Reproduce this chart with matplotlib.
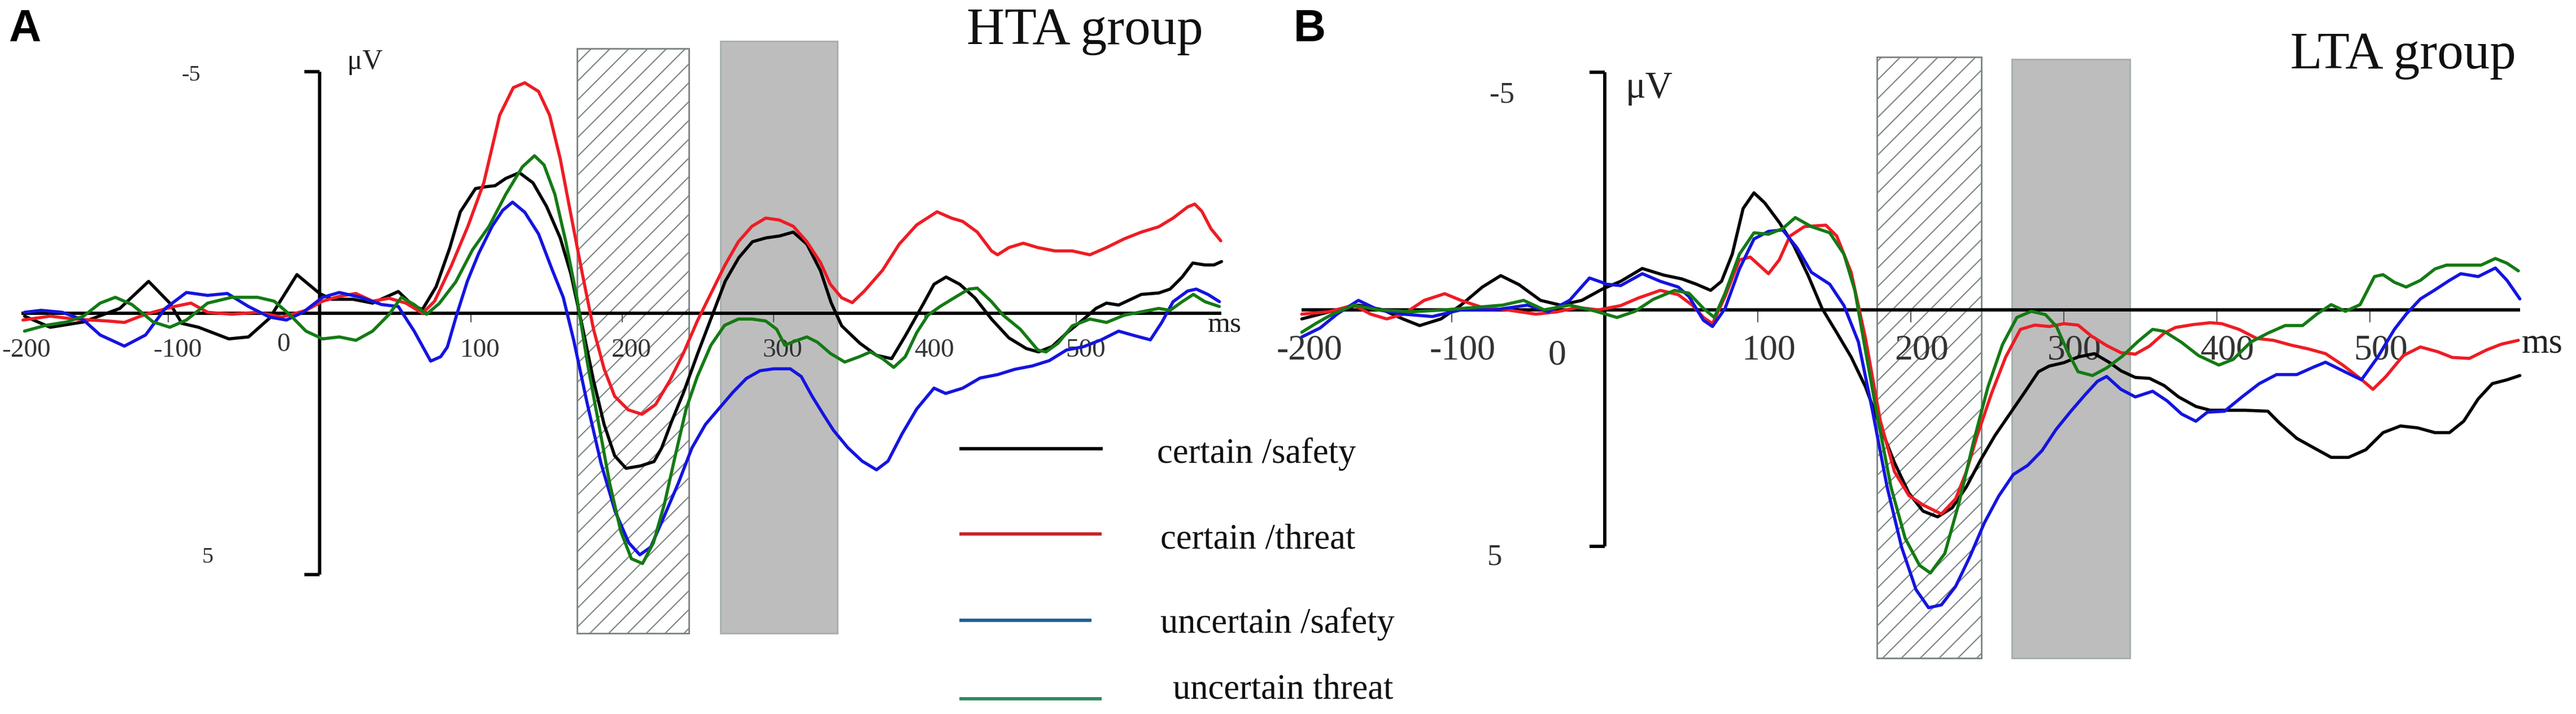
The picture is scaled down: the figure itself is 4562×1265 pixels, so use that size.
import matplotlib
matplotlib.use("Agg")
import matplotlib.pyplot as plt
from matplotlib.patches import Rectangle
from matplotlib.lines import Line2D
import numpy as np

W, H = 4562, 1265
plt.rcParams['font.family'] = ['Liberation Serif', 'DejaVu Serif']
plt.rcParams['hatch.linewidth'] = 1.5

# ---- data: ERP waveforms, (ms, uV), negative is plotted upwards ----
conditions = ['certain /safety', 'certain /threat', 'uncertain /safety', 'uncertain threat']
curve_colors = ['#000000', '#ee1c25', '#1414e0', '#147a14']
legend_colors = ['#000000', '#c62329', '#1f5f94', '#2e8a5c']
ms_ticks = [-200, -100, 0, 100, 200, 300, 400, 500]

hta_certain_safety = [
    (-195, 0.06), (-178, 0.29), (-156, 0.18), (-132, -0.10), (-113, -0.66), (-99, -0.21),
    (-91, 0.21), (-80, 0.29), (-60, 0.53), (-47, 0.49), (-33, 0.10), (-15, -0.80), (0, -0.41),
    (8, -0.29), (22, -0.29), (35, -0.21), (52, -0.45), (62, -0.15), (68, -0.08), (77, -0.55),
    (86, -1.35), (93, -2.10), (103, -2.58), (110, -2.62), (116, -2.64), (123, -2.79), (132, -2.91),
    (141, -2.70), (150, -2.21), (159, -1.56), (166, -0.82), (174, 0.33), (181, 1.39), (188, 2.30),
    (195, 2.95), (202.5, 3.21), (212, 3.16), (221, 3.07), (226, 2.79), (233, 2.21), (240.5, 1.64),
    (250, 0.82), (259, 0.08), (268, -0.66), (277, -1.15), (286, -1.48), (295, -1.56), (304, -1.60),
    (313, -1.68), (322, -1.43), (331, -0.88), (338, -0.22), (345, 0.26), (357, 0.62), (368, 0.87),
    (378, 0.94), (387, 0.47), (398.5, -0.17), (406, -0.60), (414, -0.75), (423, -0.60), (433, -0.32),
    (444, 0.12), (455.5, 0.51), (467, 0.73), (475, 0.80), (484, 0.69), (494, 0.40), (505, 0.12),
    (513, -0.10), (520, -0.21), (528, -0.17), (535.5, -0.28), (543, -0.39), (554.5, -0.42),
    (562, -0.50), (570, -0.75), (577, -1.04), (585, -1.00), (591, -1.00), (596, -1.07)]

hta_certain_threat = [
    (-196, 0.14), (-178, 0.06), (-162, 0.12), (-140, 0.16), (-129, 0.19), (-115, 0.02), (-96, -0.14),
    (-85, -0.21), (-74, -0.02), (-58, 0.02), (-41, -0.02), (-25, 0.08), (-9, -0.06), (2, -0.25),
    (13, -0.35), (24, -0.41), (35, -0.25), (46, -0.31), (57, -0.21), (68, 0.00), (76, -0.25),
    (87, -0.98), (98, -1.80), (108.5, -2.70), (119, -4.10), (128, -4.67), (135.6, -4.77),
    (144.7, -4.59), (152, -4.10), (159, -3.20), (166, -2.05), (173.6, -0.82), (181, 0.33),
    (188, 1.15), (195, 1.72), (204, 2.00), (213, 2.09), (222, 1.89), (231.5, 1.39), (240.5, 0.82),
    (249.6, 0.16), (258.6, -0.41), (267.6, -0.98), (276.7, -1.48), (285.7, -1.80), (294.8, -1.97),
    (303.8, -1.93), (313, -1.80), (322, -1.48), (331, -1.05), (337.5, -0.60), (345, -0.32),
    (352, -0.22), (360, -0.46), (372, -0.89), (383, -1.43), (394.6, -1.83), (408, -2.10),
    (417.5, -1.97), (425, -1.90), (434.6, -1.68), (444, -1.29), (448, -1.21), (455.5, -1.36),
    (465, -1.45), (474.6, -1.36), (486, -1.29), (497.4, -1.29), (509, -1.21), (520, -1.36),
    (531.7, -1.54), (543, -1.68), (554.5, -1.79), (564, -1.97), (573.6, -2.20), (578.3, -2.26),
    (583, -2.11), (589, -1.75), (595.5, -1.50)]

hta_uncertain_safety = [
    (-195, -0.02), (-184, -0.06), (-170, -0.02), (-156, 0.14), (-145, 0.45), (-129, 0.68),
    (-115, 0.45), (-102, -0.10), (-88, -0.43), (-74, -0.37), (-61, -0.41), (-47, -0.14), (-33, 0.08),
    (-22, 0.14), (-11, -0.02), (2, -0.33), (13, -0.43), (27, -0.33), (41, -0.18), (52, -0.14),
    (62.5, 0.37), (73.4, 0.99), (80, 0.90), (84.4, 0.70), (90.4, 0.05), (97.6, -0.66), (105, -1.23),
    (114, -1.80), (121, -2.13), (127.5, -2.30), (135.6, -2.09), (144.7, -1.64), (153.7, -0.90),
    (161, -0.33), (168, 0.57), (177, 1.89), (186, 3.11), (195.3, 4.10), (204.3, 4.75), (211.6, 5.00),
    (218.8, 4.84), (228, 4.18), (237, 3.52), (246, 2.79), (255, 2.30), (264, 1.97), (273, 1.64),
    (282, 1.35), (291, 1.19), (300, 1.15), (311, 1.15), (318.3, 1.31), (325.5, 1.72), (333, 2.10),
    (339.5, 2.42), (349, 2.78), (358.5, 3.06), (368, 3.24), (375.6, 3.06), (385, 2.49), (394.6, 1.98),
    (406, 1.55), (413.7, 1.66), (425, 1.55), (436.5, 1.34), (448, 1.27), (459.4, 1.16), (471, 1.09),
    (482.2, 0.98), (493.6, 0.76), (505, 0.69), (516.5, 0.55), (528, 0.37), (539.3, 0.47), (549, 0.55),
    (556.5, 0.19), (564, -0.24), (573.6, -0.46), (579.3, -0.50), (587, -0.39), (594.6, -0.24)]

hta_uncertain_threat = [
    (-195, 0.37), (-181, 0.25), (-167, 0.18), (-156, 0.06), (-145, -0.21), (-135, -0.33),
    (-124, -0.18), (-110, 0.18), (-99, 0.29), (-88, 0.14), (-74, -0.21), (-58, -0.33), (-41, -0.33),
    (-30, -0.25), (-20, 0.02), (-9, 0.37), (2, 0.53), (13, 0.49), (24, 0.56), (35, 0.37), (46, 0.02),
    (54, -0.33), (62.5, -0.18), (70.7, 0.02), (79, -0.20), (90, -0.65), (101, -1.31), (112, -1.80),
    (123, -2.46), (134, -3.03), (142, -3.26), (148.3, -3.07), (155.5, -2.46), (162.7, -1.48),
    (170, -0.33), (177.2, 1.07), (184.5, 2.30), (191.7, 3.52), (199, 4.51), (206, 5.08),
    (213.4, 5.18), (220.6, 4.75), (228, 3.93), (235, 2.95), (242.3, 1.97), (249.6, 1.31),
    (258.6, 0.66), (267.6, 0.25), (276.7, 0.12), (285.7, 0.12), (294.8, 0.16), (302, 0.33),
    (307.4, 0.66), (314.7, 0.57), (322, 0.49), (329, 0.60), (337.5, 0.83), (347, 1.01), (356.6, 0.90),
    (364, 0.80), (372, 0.94), (379.4, 1.12), (387, 0.90), (394.6, 0.40), (402, 0.04), (410, -0.14),
    (419.4, -0.32), (429, -0.50), (434.6, -0.52), (444, -0.24), (451.7, 0.04), (463, 0.33),
    (474.6, 0.76), (480, 0.80), (488, 0.62), (497.4, 0.26), (509, 0.12), (520, 0.19), (531.7, 0.04),
    (543, -0.03), (554.5, -0.10), (562, -0.06), (570, -0.24), (577.4, -0.39), (585, -0.24),
    (594.5, -0.14)]

lta_certain_safety = [
    (-198, 0.19), (-186, 0.09), (-175, 0.00), (-161, -0.10), (-145, 0.00), (-132, 0.19), (-121, 0.33),
    (-107, 0.19), (-94, -0.10), (-80, -0.48), (-68, -0.72), (-56, -0.53), (-42, -0.20), (-29, -0.10),
    (-15, -0.20), (-1.4, -0.44), (10.4, -0.60), (24.5, -0.87), (38.6, -0.73), (50.4, -0.65),
    (59.8, -0.54), (69.2, -0.41), (76.3, -0.60), (83.3, -1.17), (90.4, -2.13), (97.5, -2.46),
    (104.5, -2.25), (114, -1.84), (123.4, -1.36), (132.8, -0.73), (142, -0.03), (151.6, 0.48),
    (161, 0.99), (170.4, 1.62), (180, 2.45), (189.3, 3.21), (198.7, 3.85), (208, 4.23),
    (217.5, 4.35), (227, 4.16), (236.3, 3.72), (245.7, 3.15), (255, 2.64), (264.6, 2.19),
    (274, 1.75), (283.4, 1.30), (290.5, 1.18), (300, 1.11), (309.3, 0.99), (320, 0.92), (330, 1.11),
    (337.3, 1.28), (346.7, 1.42), (356, 1.44), (365.5, 1.59), (375, 1.83), (386.3, 2.03),
    (395.7, 2.11), (407, 2.11), (418.3, 2.11), (433.3, 2.13), (441, 2.38), (452.2, 2.70),
    (463.4, 2.90), (474.7, 3.10), (486, 3.10), (497.3, 2.94), (508.6, 2.58), (520, 2.44),
    (531.2, 2.48), (542.5, 2.58), (552, 2.58), (561.3, 2.34), (570.8, 1.87), (580, 1.55),
    (589.6, 1.47), (598, 1.38)]

lta_certain_threat = [
    (-198, 0.09), (-180.5, 0.04), (-164, -0.10), (-153, 0.09), (-142.5, 0.19), (-131.6, 0.09),
    (-118, -0.20), (-104.6, -0.34), (-94, -0.20), (-80, -0.05), (-64, 0.00), (-45, 0.09), (-31, 0.04),
    (-18, -0.05), (-4, 0.00), (10.4, -0.09), (22, -0.25), (36.3, -0.41), (48, -0.32), (57.5, -0.09),
    (64.5, 0.16), (70.4, 0.29), (78.6, -0.28), (88, -1.05), (95, -1.11), (107, -0.76), (114, -1.05),
    (121, -1.55), (130.4, -1.75), (144.5, -1.78), (151.6, -1.55), (161, -0.79), (170.4, 0.60),
    (180, 2.32), (189.3, 3.40), (198.7, 3.90), (208, 4.10), (220, 4.29), (229.3, 3.97),
    (236.3, 3.40), (243.4, 2.64), (252.8, 1.75), (262, 0.99), (271.6, 0.41), (281, 0.32),
    (290.5, 0.35), (300, 0.29), (309.3, 0.32), (318, 0.55), (328, 0.75), (337.3, 0.90),
    (346.7, 0.93), (356, 0.76), (365.5, 0.49), (373, 0.37), (384.4, 0.31), (395.7, 0.27),
    (403.2, 0.29), (414.5, 0.41), (426, 0.60), (437, 0.64), (448.4, 0.74), (459.7, 0.82),
    (471, 0.92), (482.3, 1.16), (493.6, 1.44), (502, 1.67), (510.5, 1.40), (521.8, 0.96),
    (533, 0.78), (544.4, 0.88), (553.8, 1.00), (565, 1.02), (576.4, 0.84), (586, 0.72), (597, 0.64)]

lta_uncertain_safety = [
    (-198, 0.57), (-186, 0.38), (-175, 0.09), (-161, -0.20), (-148, 0.00), (-131.6, 0.09),
    (-112.7, 0.14), (-94, 0.00), (-72, 0.00), (-50.5, -0.10), (-37, 0.04), (-23, -0.20),
    (-10, -0.67), (-2, -0.58), (1, -0.54), (10.4, -0.51), (24.5, -0.76), (36.3, -0.60), (48, -0.48),
    (55, -0.28), (64.5, 0.22), (70.4, 0.35), (78.6, -0.03), (88, -0.86), (97.5, -1.49), (107, -1.65),
    (116.3, -1.68), (125.7, -1.30), (135, -0.79), (147, -0.54), (156.3, -0.09), (165.7, 0.67),
    (175, 2.13), (184.5, 3.72), (194, 4.99), (203.4, 5.88), (211.6, 6.26), (220, 6.20),
    (229.3, 5.81), (238.7, 5.18), (248, 4.48), (257.5, 3.91), (267, 3.46), (276.3, 3.27),
    (285.7, 2.96), (295, 2.51), (304.6, 2.13), (314, 1.78), (322, 1.50), (328, 1.40), (337.3, 1.67),
    (346.7, 1.83), (358, 1.71), (367.4, 1.91), (377, 2.19), (386.3, 2.34), (393.8, 2.15),
    (405, 2.13), (416.4, 1.83), (427.7, 1.55), (439, 1.36), (452.2, 1.36), (463.4, 1.20),
    (471, 1.10), (482.3, 1.28), (494.5, 1.47), (505, 1.00), (516, 0.41), (523.7, 0.09),
    (533, -0.23), (542.5, -0.42), (552, -0.62), (559.4, -0.76), (570.8, -0.70), (582, -0.88),
    (589.6, -0.62), (598, -0.23)]

lta_uncertain_threat = [
    (-198, 0.47), (-188.5, 0.28), (-178, 0.09), (-164, -0.10), (-148, 0.00), (-126, 0.04),
    (-104.6, 0.00), (-85.6, -0.05), (-66.7, -0.10), (-53, -0.20), (-39.6, 0.00), (-23, -0.10),
    (-7, 0.02), (8, 0.16), (19.8, 0.03), (31.6, -0.22), (45.7, -0.41), (55, -0.35), (64.5, -0.03),
    (71.6, 0.16), (78.6, -0.35), (88, -1.17), (97.5, -1.62), (107, -1.59), (116.3, -1.71),
    (124.5, -1.94), (135, -1.75), (147, -1.62), (156.3, -1.17), (163.4, -0.41), (170.4, 0.86),
    (177.5, 2.13), (187, 3.72), (196.3, 4.80), (205.7, 5.37), (212.8, 5.53), (222.2, 5.12),
    (231.6, 4.04), (241, 2.77), (250.4, 1.62), (259.9, 0.73), (269.3, 0.16), (278.7, 0.03),
    (288, 0.10), (295.2, 0.35), (302.2, 0.86), (309.3, 1.30), (318.7, 1.38), (328, 1.22),
    (338, 0.98), (348.6, 0.66), (358, 0.41), (365.5, 0.45), (376.8, 0.68), (388, 0.96),
    (401.3, 1.16), (410.7, 1.04), (422, 0.68), (433.3, 0.49), (444.6, 0.33), (456, 0.33),
    (465.3, 0.09), (474.7, -0.11), (484, 0.03), (493.6, -0.11), (503, -0.70), (508.6, -0.74),
    (516, -0.58), (523.7, -0.48), (533, -0.62), (542.5, -0.86), (550, -0.94), (561.3, -0.94),
    (572.6, -0.94), (582, -1.08), (589.6, -0.98), (597, -0.82)]

hta_series = [hta_certain_safety, hta_certain_threat, hta_uncertain_safety, hta_uncertain_threat]
lta_series = [lta_certain_safety, lta_certain_threat, lta_uncertain_safety, lta_uncertain_threat]

# analysis windows (ms)
hta_windows = [(170, 244), (265, 342)]
lta_windows = [(178, 246), (266, 343)]


fig = plt.figure(figsize=(W / 100, H / 100), dpi=100)
fig.patch.set_facecolor('white')


def add_panel(x0, y0, sx, sy, xlim, ylim):
    # x0/y0: pixel of (0 ms, 0 uV); sx px per ms, sy px per uV
    left = x0 + xlim[0] * sx
    right = x0 + xlim[1] * sx
    top = y0 + ylim[0] * sy
    bottom = y0 + ylim[1] * sy
    ax = fig.add_axes([left / W, 1 - bottom / H, (right - left) / W, (bottom - top) / H])
    ax.set_xlim(*xlim)
    ax.set_ylim(ylim[1], ylim[0])
    ax.axis('off')
    return ax


def draw_erp(ax, series, windows, cfg):
    (h0, h1), (g0, g1) = windows
    ax.add_patch(Rectangle((h0, cfg['hatch_top']), h1 - h0, cfg['box_bottom'] - cfg['hatch_top'],
                           facecolor='white', edgecolor='#7a8282', hatch='/', lw=2.0, zorder=1))
    ax.add_patch(Rectangle((g0, cfg['gray_top']), g1 - g0, cfg['box_bottom'] - cfg['gray_top'],
                           facecolor='#bdbdbd', edgecolor='#a4aeae', lw=2.0, zorder=1))

    # x tick labels and small tick marks
    for t in ms_ticks:
        if t == 0:
            ax.text(cfg['zero_x'], cfg['zero_base'], '0', ha='center', va='baseline',
                    fontsize=cfg['tick_fs'], color='#333333', zorder=2)
            continue
        ax.text(t + cfg['tick_dx'], cfg['tick_base'], str(t), ha='center', va='baseline',
                fontsize=cfg['tick_fs'], color='#333333', zorder=2)
        if t > -200:
            ax.plot([t, t], [0, cfg['tick_len']], color='#555555', lw=1.5, zorder=2)

    ax.plot(cfg['zero_span'], [0, 0], color='black', lw=cfg['axis_lw'], zorder=3,
            solid_capstyle='butt')
    ax.text(cfg['ms_x'], cfg['ms_base'], 'ms', ha='left', va='baseline',
            fontsize=cfg['ms_fs'], color='#222222', zorder=2)

    # vertical voltage bar
    ax.plot([0, 0], [-5, cfg['bar_bottom']], color='black', lw=cfg['axis_lw'], zorder=3,
            solid_capstyle='butt')
    for yv in (-5, cfg['bar_bottom']):
        ax.plot([-10, 0], [yv, yv], color='black', lw=cfg['axis_lw'], zorder=3,
                solid_capstyle='butt')
    ax.text(cfg['m5'][0], cfg['m5'][1], '-5', ha='center', va='baseline',
            fontsize=cfg['v_fs'], color='#333333')
    ax.text(cfg['p5'][0], cfg['p5'][1], '5', ha='center', va='baseline',
            fontsize=cfg['v_fs'], color='#333333')
    ax.text(cfg['uv'][0], cfg['uv'][1], 'μV', ha='center', va='baseline',
            fontsize=cfg['uv_fs'], color='#222222')

    for pts, col in zip(series, curve_colors):
        arr = np.array(pts)
        ax.plot(arr[:, 0], arr[:, 1], color=col, lw=4.0, zorder=4,
                solid_joinstyle='round', solid_capstyle='round')


ax_a = add_panel(566, 555, 2.68, 85.6, (-210, 615), (-6.4, 8.3))
draw_erp(ax_a, hta_series, hta_windows, dict(
    hatch_top=-5.48, gray_top=-5.63, box_bottom=6.62, tick_fs=34, tick_dx=6, tick_base=0.90,
    zero_x=-24, zero_base=0.78, tick_len=0.18, zero_span=[-197, 596], axis_lw=4.2,
    ms_x=587, ms_base=0.39, ms_fs=37, bar_bottom=5.41, m5=(-85, -4.81), p5=(-74, 5.16),
    uv=(30, -5.06), v_fs=29, uv_fs=36))

ax_b = add_panel(2842, 549, 2.71, 84.3, (-205, 610), (-6.4, 8.4))
draw_erp(ax_b, lta_series, lta_windows, dict(
    hatch_top=-5.31, gray_top=-5.27, box_bottom=7.32, tick_fs=46, tick_dx=7, tick_base=1.04,
    zero_x=-31, zero_base=1.14, tick_len=0.25, zero_span=[-198, 598], axis_lw=4.2,
    ms_x=599, ms_base=0.90, ms_fs=45, bar_bottom=4.97, m5=(-67, -4.36), p5=(-72, 5.35),
    uv=(29, -4.46), v_fs=38, uv_fs=48))


def fxy(px, py):
    return px / W, 1 - py / H


# panel letters and group titles
fig.text(*fxy(15, 73), 'A', fontfamily='Liberation Sans', fontweight='bold', fontsize=57,
         va='baseline')
fig.text(*fxy(2291, 73), 'B', fontfamily='Liberation Sans', fontweight='bold', fontsize=57,
         va='baseline')
fig.text(*fxy(1712, 78), 'HTA group', fontsize=67, va='baseline', color='#111111')
fig.text(*fxy(4056, 121), 'LTA group', fontsize=67, va='baseline', color='#111111')

# legend in panel A
leg_y = [795, 946, 1099, 1238]
leg_x1 = [1950, 1948, 1930, 1948]
leg_tx = [2049, 2055, 2055, 2077]
leg_base = [820, 971, 1121, 1237]
for lab, col, y, x1, tx, tb in zip(conditions, legend_colors, leg_y, leg_x1, leg_tx, leg_base):
    (xa, ya), (xb, yb) = fxy(1702, y), fxy(x1, y)
    fig.add_artist(Line2D([xa, xb], [ya, yb], transform=fig.transFigure, color=col, lw=4.2))
    fig.text(*fxy(tx, tb), lab, fontsize=45, va='baseline', color='#111111')

fig.savefig('out.png', dpi=100, facecolor='white')
